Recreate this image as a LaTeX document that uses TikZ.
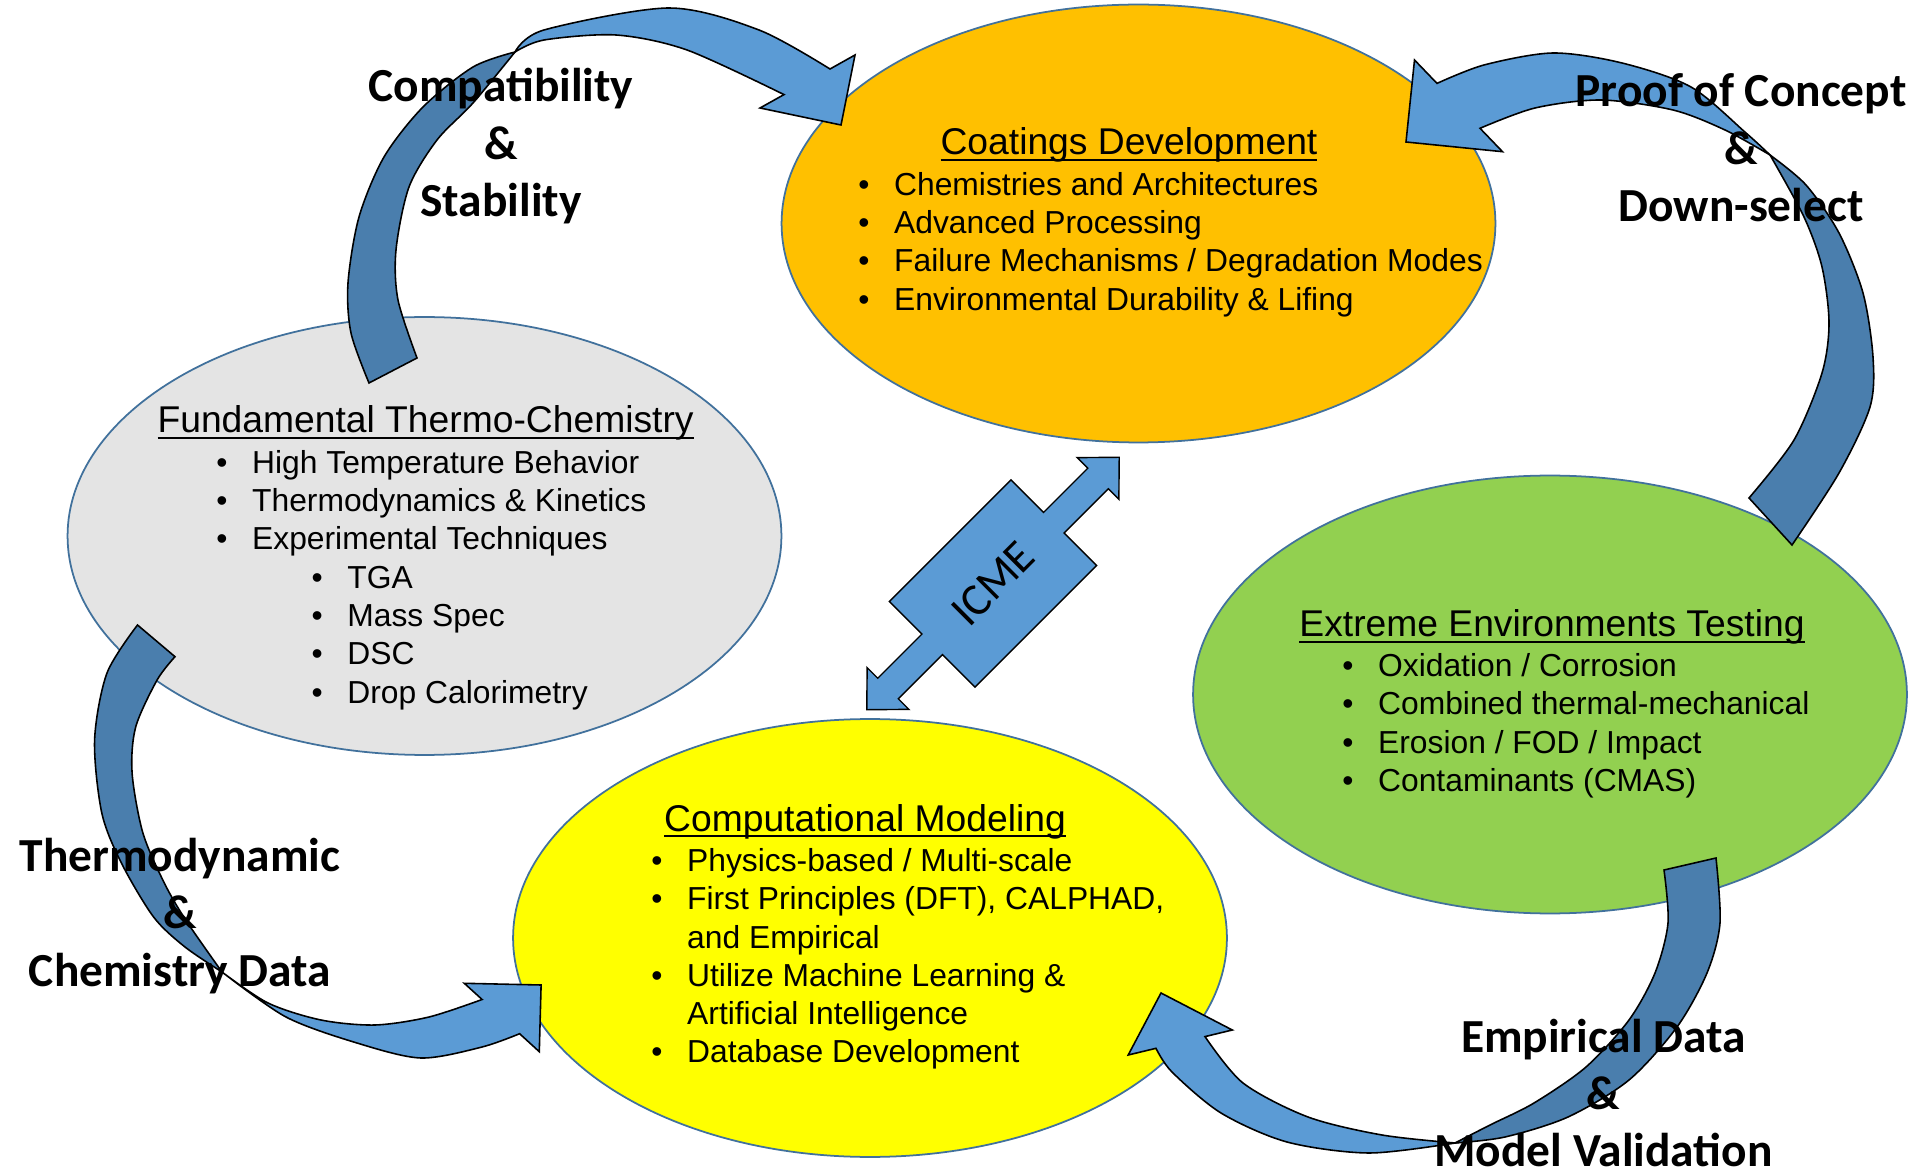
\documentclass[tikz,border=0pt]{standalone}
\usepackage{fontspec}
\setmainfont{Liberation Sans}
\newfontfamily\lblfont{Carlito}
\usepackage{tikz}
\usetikzlibrary{shapes.geometric}

\definecolor{coatfill}{HTML}{FFC000}
\definecolor{thermofill}{HTML}{E4E4E4}
\definecolor{modelfill}{HTML}{FFFF00}
\definecolor{testfill}{HTML}{92D050}
\definecolor{rimblue}{HTML}{41719C}
\definecolor{frontblue}{HTML}{5B9BD5}
\definecolor{backblue}{HTML}{4A7EAD}

% bullet with a fixed indent, and underlined heading
\newcommand{\blt}{\makebox[20.4pt][l]{\textbullet}}
\newcommand{\hdline}[1]{\setbox0\hbox{#1}\makebox[0pt][l]{\rule[-3.6pt]{\wd0}{1.3pt}}\box0}

\tikzset{
  bubble/.style={ellipse, draw=rimblue, line width=1pt, minimum width=14.28cm, minimum height=8.76cm, inner sep=0pt},
  frontband/.style={fill=frontblue, draw=black, line width=0.9pt},
  backband/.style={fill=backblue, draw=black, line width=0.9pt},
  title/.style={anchor=base, inner sep=0pt, font=\fontsize{21.2}{25}\selectfont},
  items/.style={anchor=base west, inner sep=0pt, font=\fontsize{18.1}{21.8}\selectfont},
  cyclelabel/.style={align=center, inner sep=0pt, font=\lblfont\bfseries\fontsize{27}{32.7}\selectfont}
}

\begin{document}
\begin{tikzpicture}[x=0.02cm, y=-0.02cm]

\useasboundingbox (0,0) rectangle (1921,1175);
\fill[white] (0,0) rectangle (1921,1175);

%% the four stages
\foreach \nm/\cx/\cy/\col in {coat/1138.5/223.5/coatfill, thermo/424.5/536/thermofill,
                              model/870/938/modelfill, test/1550/694.5/testfill}
  {
  \node[bubble, fill=\col] (\nm) at (\cx,\cy) {};
  }

%% ICME double arrow
\begin{scope}[shift={(993,583.5)}, rotate=45]
 \filldraw[frontband, line width=0.8pt]
   (178.5,0) -- (148.5,29.5) -- (148.5,14.5) -- (86,14.5) -- (86,60.5)
   -- (-86,60.5) -- (-86,14.5) -- (-148.5,14.5) -- (-148.5,29.5) -- (-178.5,0)
   -- (-148.5,-29.5) -- (-148.5,-14.5) -- (-86,-14.5) -- (-86,-60.5)
   -- (86,-60.5) -- (86,-14.5) -- (148.5,-14.5) -- (148.5,-29.5) -- cycle;
\end{scope}
\node[rotate=45, inner sep=0pt, font=\lblfont\fontsize{26}{30}\selectfont] (icme) at (993,583.5) {ICME};

%% thermo -> coatings
\filldraw[backband] plot[smooth] coordinates {(369,383) (351,333) (348,283) (359,217) (384,157) (423,107) (473,67) (515,52)}
  -- plot[smooth] coordinates {(515,52) (473,103) (437,140) (409,187) (396,250) (398,300) (417,358)} -- cycle;
\filldraw[frontband] plot[smooth] coordinates {(515,52) (544,40) (616,35) (687,50) (784,94.6)}
  -- (760,108) -- (841,125) -- (855,55)
  -- plot[smooth] coordinates {(830,69) (759,30) (669,8) (544,30) (515,52)} -- cycle;

%% testing -> coatings
\filldraw[backband] plot[smooth] coordinates {(1792,545) (1839,473) (1870,407) (1873,357) (1863,293) (1839,233) (1806,185) (1770,155)}
  -- plot[smooth] coordinates {(1770,155) (1804,217) (1822,267) (1829,323) (1822,373) (1794,440) (1749,498)} -- cycle;
\filldraw[frontband] plot[smooth] coordinates {(1770,155) (1725,130) (1673,110) (1601,100) (1535,108) (1480,128.3)}
  -- (1502.5,151.7) -- (1406,142) -- (1414.5,60)
  -- plot[smooth] coordinates {(1437,83.4) (1484,65) (1553,53) (1622,63) (1691,87) (1746,133) (1770,155)} -- cycle;

%% thermo -> modeling
\filldraw[backband] plot[smooth] coordinates {(137.5,625) (107,673) (94.6,740) (101.8,813) (121.4,863) (153.6,917) (185,947) (222,972)}
  -- plot[smooth] coordinates {(222,972) (185.7,920) (164.3,883) (142.9,833) (132.1,773) (135.7,727) (157.1,680) (175,656.7)} -- cycle;
\filldraw[frontband] plot[smooth] coordinates {(222,972) (268,1003) (321,1020) (375,1025) (429,1017) (482.1,999.5)}
  -- (464.3,983.3) -- (541.1,985) -- (539.3,1051.7)
  -- plot[smooth] coordinates {(519.6,1033.7) (482,1047) (421,1058) (357,1043) (286,1017) (222,972)} -- cycle;

%% testing -> modeling
\filldraw[backband] plot[smooth] coordinates {(1716,858) (1720,923) (1707,973) (1677,1027) (1629,1080) (1568,1117) (1505,1137) (1455,1143)}
  -- plot[smooth] coordinates {(1455,1143) (1490,1125) (1534,1103) (1586,1067) (1629,1020) (1655,973) (1668,923) (1664,870)} -- cycle;
\filldraw[frontband] plot[smooth] coordinates {(1455,1143) (1382,1135) (1308,1117) (1243,1083) (1205,1036.6)}
  -- (1232.3,1030) -- (1161,993) -- (1128.2,1055)
  -- plot[smooth] coordinates {(1156,1048.3) (1172,1072) (1221,1113) (1287,1142) (1369,1153) (1455,1143)} -- cycle;

%% stage texts
\node[title] (coattitle) at (1129,155) {\hdline{Coatings Development}};
\node[items] (coatlist) at (858,195.2) {\begin{tabular}[t]{@{}l@{}}
  \blt Chemistries and Architectures\\
  \blt Advanced Processing\\
  \blt Failure Mechanisms / Degradation Modes\\
  \blt Environmental Durability \& Lifing
  \end{tabular}};

\node[title] (thermotitle) at (425.6,433) {\hdline{Fundamental Thermo-Chemistry}};
\node[items] (thermolist) at (216,473.2) {\begin{tabular}[t]{@{}l@{}}
  \blt High Temperature Behavior\\
  \blt Thermodynamics \& Kinetics\\
  \blt Experimental Techniques\\
  \hspace{54.2pt}\blt TGA\\
  \hspace{54.2pt}\blt Mass Spec\\
  \hspace{54.2pt}\blt DSC\\
  \hspace{54.2pt}\blt Drop Calorimetry
  \end{tabular}};

\node[title] (testtitle) at (1552,636.5) {\hdline{Extreme Environments Testing}};
\node[items] (testlist) at (1342,676.4) {\begin{tabular}[t]{@{}l@{}}
  \blt Oxidation / Corrosion\\
  \blt Combined thermal-mechanical\\
  \blt Erosion / FOD / Impact\\
  \blt Contaminants (CMAS)
  \end{tabular}};

\node[title] (modeltitle) at (865,831) {\hdline{Computational Modeling}};
\node[items] (modellist) at (651,871.4) {\begin{tabular}[t]{@{}l@{}}
  \blt Physics-based / Multi-scale\\
  \blt First Principles (DFT), CALPHAD,\\
  \hspace{20.4pt}and Empirical\\
  \blt Utilize Machine Learning \&\\
  \hspace{20.4pt}Artificial Intelligence\\
  \blt Database Development
  \end{tabular}};

%% labels on the cycle
\node[cyclelabel] (compat) at (501,146.5) {Compatibility\\\&\\Stability};
\node[cyclelabel] (proof) at (1741,148) {Proof of Concept\\\&\\Down-select};
\node[cyclelabel] (thermodata) at (180,916) {Thermodynamic\\\&\\Chemistry Data};
\node[cyclelabel] (empirical) at (1603.5,1093) {Empirical Data\\\&\\Model Validation};

\end{tikzpicture}
\end{document}
